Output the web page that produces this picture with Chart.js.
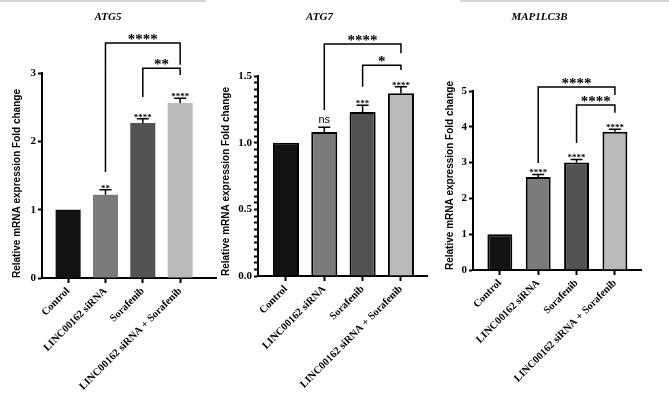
<!DOCTYPE html>
<html lang="en">
<head>
<meta charset="UTF-8">
<title>ATG5 / ATG7 / MAP1LC3B</title>
<script src="https://cdn.jsdelivr.net/npm/chart.js"></script>
<style>
  html, body { margin: 0; padding: 0; background: #fff; }
  #wrap { position: relative; width: 669px; height: 397px; overflow: hidden; background: #fff; }
  .panel { position: absolute; top: 0; }
  .panel canvas { display: block; }
  .rule { position: absolute; top: 0; height: 2px; background: #d6d6d6; }
</style>
</head>
<body>
<div id="wrap">
  <div class="rule" style="left:0;width:206px"></div>
  <div class="rule" style="left:460px;width:209px"></div>
  <div class="panel" style="left:0"><canvas id="atg5" width="250" height="397"></canvas></div>
  <div class="panel" style="left:212px"><canvas id="atg7" width="252" height="397"></canvas></div>
  <div class="panel" style="left:438px"><canvas id="map1lc3b" width="240" height="397"></canvas></div>
</div>
<script>
const groups = ['Control', 'LINC00162 siRNA', 'Sorafenib', 'LINC00162 siRNA + Sorafenib'];
const barColors = ['#131313', '#7b7b7b', '#535353', '#bababa'];

// ATG5
const atg5Values = [1.00, 1.22, 2.27, 2.56];
const atg5Errors = [0, 0.07, 0.06, 0.07];
const atg5Marks = ['', '**', '****', '****'];
const atg5Brackets = [
  { from: 1, to: 3, top: 3.44, left: 1.55, right: 3.12, text: '****' },
  { from: 2, to: 3, top: 3.07, left: 2.65, right: 2.97, text: '**' }
];

// ATG7
const atg7Values = [1.00, 1.08, 1.23, 1.37];
const atg7Errors = [0, 0.035, 0.05, 0.05];
const atg7Marks = ['', 'ns', '***', '****'];
const atg7Brackets = [
  { from: 1, to: 3, top: 1.74, left: 1.245, right: 1.67, text: '****' },
  { from: 2, to: 3, top: 1.58, left: 1.42, right: 1.545, text: '*' }
];

// MAP1LC3B
const lc3bValues = [1.00, 2.60, 3.00, 3.86];
const lc3bErrors = [0, 0.07, 0.09, 0.07];
const lc3bMarks = ['', '****', '****', '****'];
const lc3bBrackets = [
  { from: 1, to: 3, top: 5.11, left: 2.99, right: 4.89, text: '****' },
  { from: 2, to: 3, top: 4.61, left: 3.55, right: 4.39, text: '****' }
];

const yTitle = 'Relative mRNA expression Fold change';

// error bars, significance marks and comparison brackets
const overlay = {
  id: 'overlay',
  afterDatasetsDraw(chart, args, o) {
    const ctx = chart.ctx, xs = chart.scales.x, ys = chart.scales.y;
    ctx.save();
    ctx.strokeStyle = '#000';
    ctx.fillStyle = '#000';
    ctx.lineWidth = 1.5;
    ctx.textAlign = 'center';
    ctx.textBaseline = 'alphabetic';
    o.values.forEach((v, i) => {
      const px = xs.getPixelForValue(i);
      const top = ys.getPixelForValue(v + o.errors[i]);
      if (o.errors[i] > 0) {
        ctx.beginPath();
        ctx.moveTo(px, ys.getPixelForValue(v));
        ctx.lineTo(px, top);
        ctx.moveTo(px - 6, top);
        ctx.lineTo(px + 6, top);
        ctx.stroke();
      }
      const m = o.marks[i];
      if (m === 'ns') {
        ctx.font = '11px "Liberation Sans"';
        ctx.fillText(m, px, top - 4);
      } else if (m) {
        ctx.font = 'bold 9px "Liberation Serif"';
        ctx.fillText(m, px, top + 1);
      }
    });
    o.brackets.forEach(b => {
      const x1 = xs.getPixelForValue(b.from), x2 = xs.getPixelForValue(b.to);
      const yt = ys.getPixelForValue(b.top);
      ctx.beginPath();
      ctx.moveTo(x1, ys.getPixelForValue(b.left));
      ctx.lineTo(x1, yt);
      ctx.lineTo(x2, yt);
      ctx.lineTo(x2, ys.getPixelForValue(b.right));
      ctx.stroke();
      ctx.font = 'bold 15px "Liberation Serif"';
      ctx.fillText(b.text, (x1 + x2) / 2, yt + 1);
    });
    ctx.restore();
  }
};

function makeChart(id, p) {
  return new Chart(document.getElementById(id), {
    type: 'bar',
    data: {
      datasets: [{
        data: p.values.map((v, i) => ({ x: i, y: v })),
        backgroundColor: barColors,
        borderColor: '#000',
        borderWidth: p.border,
        barPercentage: p.barPct,
        categoryPercentage: 1
      }]
    },
    options: {
      responsive: false,
      animation: false,
      layout: { padding: { left: 0, right: p.padRight, top: 0, bottom: 0 } },
      plugins: {
        legend: { display: false },
        tooltip: { enabled: false },
        title: {
          display: true,
          text: p.title,
          color: '#000',
          font: { family: 'Liberation Serif', size: 11, weight: 'bold', style: 'italic' },
          padding: { top: 10.4, bottom: p.top - 23.6 }
        },
        overlay: { values: p.values, errors: p.errors, marks: p.marks, brackets: p.brackets }
      },
      scales: {
        x: {
          type: 'linear',
          min: p.xMin,
          max: p.xMax,
          offset: false,
          grid: { display: true, drawOnChartArea: false, offset: false, tickLength: 5, tickWidth: 2, tickColor: '#000' },
          border: { display: true, color: '#000', width: 2 },
          afterBuildTicks: s => { s.ticks = groups.map((g, i) => ({ value: i })); },
          afterFit: s => { s.height = 397 - p.bottom; },
          ticks: {
            autoSkip: false,
            minRotation: 45,
            maxRotation: 45,
            padding: 2,
            color: '#000',
            font: { family: 'Liberation Serif', size: 10.5, weight: 'bold' },
            callback: v => groups[v]
          }
        },
        y: {
          min: 0,
          max: p.yMax,
          grid: { display: true, drawOnChartArea: false, tickLength: 4, tickWidth: 2, tickColor: '#000' },
          border: { display: true, color: '#000', width: 2 },
          afterFit: s => { s.width = p.yWidth; },
          title: {
            display: true,
            text: yTitle,
            align: 'start',
            color: '#000',
            font: { family: 'Liberation Sans', size: 10, weight: 'bold' },
            padding: { top: p.titlePad, bottom: 0 }
          },
          ticks: {
            stepSize: p.step,
            maxTicksLimit: 100,
            autoSkip: false,
            padding: 2,
            color: '#000',
            font: { family: 'Liberation Serif', size: 11, weight: 'bold' },
            callback: p.label
          }
        }
      }
    },
    plugins: [overlay]
  });
}

makeChart('atg5', {
  title: 'ATG5', values: atg5Values, errors: atg5Errors, marks: atg5Marks, brackets: atg5Brackets,
  border: 0, barPct: 0.67, padRight: 34, top: 73, bottom: 278, yWidth: 42, titlePad: 11,
  xMin: -0.70, xMax: 3.96, yMax: 3, step: 1, label: v => v
});

makeChart('atg7', {
  title: 'ATG7', values: atg7Values, errors: atg7Errors, marks: atg7Marks, brackets: atg7Brackets,
  border: 2, barPct: 0.68, padRight: 37, top: 76, bottom: 276, yWidth: 46, titlePad: 8,
  xMin: -0.73, xMax: 3.68, yMax: 1.5, step: 0.05,
  label: v => Math.abs(v * 2 - Math.round(v * 2)) < 1e-6 ? v.toFixed(1) : ''
});

makeChart('map1lc3b', {
  title: 'MAP1LC3B', values: lc3bValues, errors: lc3bErrors, marks: lc3bMarks, brackets: lc3bBrackets,
  border: 2, barPct: 0.65, padRight: 37, top: 91, bottom: 270, yWidth: 35, titlePad: 6,
  xMin: -0.70, xMax: 3.68, yMax: 5, step: 1, label: v => v
});
</script>
</body>
</html>
